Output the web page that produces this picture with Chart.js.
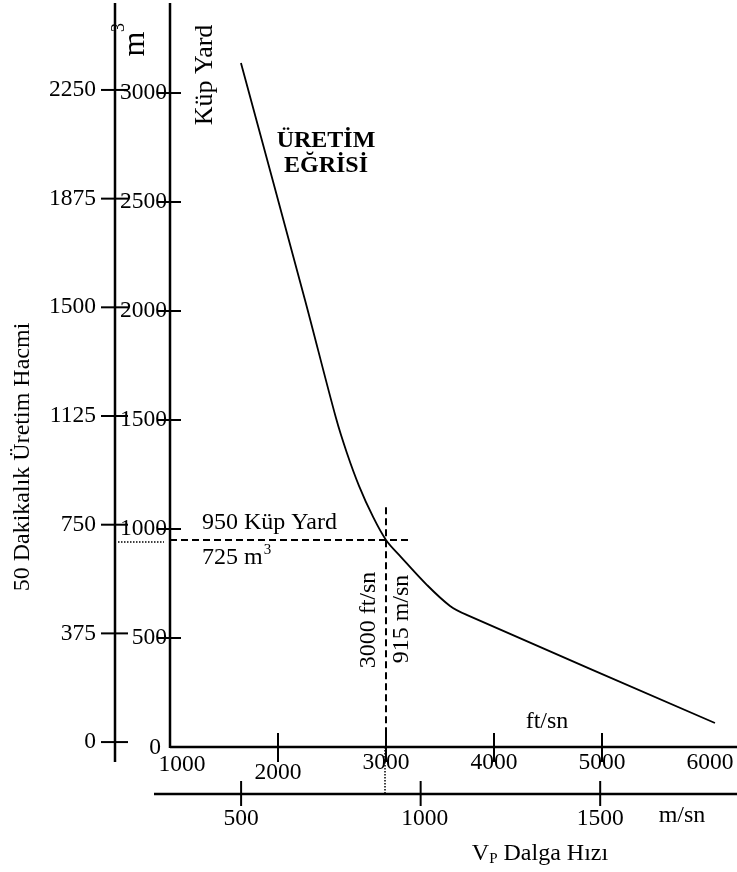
<!DOCTYPE html>
<html>
<script src="https://cdn.jsdelivr.net/npm/chart.js@4"></script>
<body style="margin:0;background:#fff">
<canvas id="myChart" width="737" height="872"></canvas>
</body>

<script>
// production curve
var velFt = [1657, 2250, 2537, 2638, 2751, 2876, 3000, 3131, 3380, 3593, 3747, 6046];
var volYd = [3138, 2051, 1509, 1349, 1197, 1060, 950, 876, 743, 647, 606, 110];

var ydTicks = [500, 1000, 1500, 2000, 2500, 3000];
var m3Ticks = [0, 375, 750, 1125, 1500, 1875, 2250];
var ftTicks = [1000, 2000, 3000, 4000, 5000, 6000];
var ftTickMarks = [2000, 3000, 4000, 5000];
var msTicks = [500, 1000, 1500];

// the marked point 3000 ft/sn -> 950 kup yard
var markFt = 3000, markYd = 950;
var guideFtEnd = 3220, guideYdTop = 1100;

var FONT = '"Liberation Serif", "Times New Roman", serif';
var OUTER_X = 115, MS_Y = 794;

function line(ctx, x1, y1, x2, y2, w, dash) {
  ctx.save();
  ctx.lineWidth = w;
  ctx.setLineDash(dash || []);
  ctx.beginPath();
  ctx.moveTo(x1, y1);
  ctx.lineTo(x2, y2);
  ctx.stroke();
  ctx.restore();
}

function vtext(ctx, str, cx, cy, font) {
  ctx.save();
  ctx.translate(cx, cy);
  ctx.rotate(-Math.PI / 2);
  ctx.font = font;
  ctx.textAlign = 'center';
  ctx.textBaseline = 'middle';
  ctx.fillText(str, 0, 0);
  ctx.restore();
}

var axisPlugin = {
  id: 'axisPlugin',
  afterDraw: function (chart) {
    var ctx = chart.ctx;
    var a = chart.chartArea;
    var sx = chart.scales.x, sy = chart.scales.y;
    var sMs = chart.scales.xMs, sM3 = chart.scales.yM3;
    ctx.save();
    ctx.strokeStyle = '#000';
    ctx.fillStyle = '#000';
    var fNum = '23.5px ' + FONT;
    var fTxt = '24px ' + FONT;

    // axis lines
    line(ctx, OUTER_X, a.top, OUTER_X, 762, 2.5);
    line(ctx, a.left, a.top, a.left, a.bottom + 1, 2.5);
    line(ctx, a.left, a.bottom, a.right, a.bottom, 2.5);
    line(ctx, 154, MS_Y, a.right, MS_Y, 2.5);

    ctx.font = fNum;
    ctx.textBaseline = 'middle';

    // outer m3 axis
    ctx.textAlign = 'right';
    m3Ticks.forEach(function (v) {
      var py = sM3.getPixelForValue(v);
      line(ctx, 101, py, 128, py, 2);
      ctx.fillText(String(v), 96, py);
    });

    // inner kup yard axis
    ydTicks.forEach(function (v) {
      var py = sy.getPixelForValue(v);
      line(ctx, a.left - 13, py, a.left + 11, py, 2);
      ctx.fillText(String(v), a.left - 3, py);
    });
    ctx.textAlign = 'center';
    ctx.fillText('0', a.left - 15, sy.getPixelForValue(0) + 1);

    // ft/sn axis
    ftTickMarks.forEach(function (v) {
      var px = sx.getPixelForValue(v);
      line(ctx, px, a.bottom - 14, px, a.bottom + 15, 2);
    });
    ftTicks.forEach(function (v, i) {
      var px = sx.getPixelForValue(v);
      var dy = 16;
      if (i === 0) { px += 12; dy = 18; }
      if (i === 1) dy = 26;
      ctx.fillText(String(v), px, a.bottom + dy);
    });

    // m/sn axis
    msTicks.forEach(function (v) {
      var px = sMs.getPixelForValue(v);
      line(ctx, px, MS_Y - 13, px, MS_Y + 12, 2);
      ctx.fillText(String(v), px + (v === 1000 ? 4 : 0), MS_Y + 25);
    });
    ctx.font = fTxt;
    ctx.fillText('m/sn', 682, 816);
    ctx.fillText('ft/sn', 547, 722);

    // VP Dalga Hızı
    ctx.textBaseline = 'alphabetic';
    ctx.textAlign = 'left';
    var wV = ctx.measureText('V').width;
    var rest = ' Dalga Hızı';
    var wR = ctx.measureText(rest).width;
    ctx.font = '15px ' + FONT;
    var wP = ctx.measureText('P').width;
    var x0 = 540 - (wV + wP + wR) / 2;
    ctx.font = fTxt;
    ctx.fillText('V', x0, 860);
    ctx.font = '15px ' + FONT;
    ctx.fillText('P', x0 + wV, 863);
    ctx.font = fTxt;
    ctx.fillText(rest, x0 + wV + wP, 860);

    // guides at the marked point
    var hx = sx.getPixelForValue(markFt);
    var hy = sy.getPixelForValue(markYd);
    line(ctx, a.left, hy, sx.getPixelForValue(guideFtEnd), hy, 2, [7, 4]);
    line(ctx, hx, sy.getPixelForValue(guideYdTop), hx, a.bottom, 2, [7, 4]);
    line(ctx, OUTER_X + 3, hy + 2, a.left - 6, hy + 2, 1.5, [1.5, 1.5]);
    line(ctx, hx - 1, a.bottom, hx - 1, MS_Y, 1.5, [1.5, 1.5]);

    // annotations
    ctx.font = fTxt;
    ctx.fillText('950 Küp Yard', 202, 529);
    ctx.fillText('725 m', 202, 564);
    var w725 = ctx.measureText('725 m').width;
    ctx.font = '15px ' + FONT;
    ctx.fillText('3', 202 + w725 + 1, 554);

    ctx.font = 'bold 24px ' + FONT;
    ctx.textAlign = 'center';
    ctx.fillText('ÜRETİM', 326, 147);
    ctx.fillText('EĞRİSİ', 326, 172);

    vtext(ctx, '3000 ft/sn', 369, 620, fTxt);
    vtext(ctx, '915 m/sn', 402, 619, fTxt);
    vtext(ctx, '50 Dakikalık Üretim Hacmi', 23, 457, fTxt);
    vtext(ctx, 'Küp Yard', 205, 75, '26px ' + FONT);

    // m3 label at the top
    ctx.save();
    ctx.translate(136, 44);
    ctx.rotate(-Math.PI / 2);
    ctx.textBaseline = 'middle';
    ctx.textAlign = 'center';
    ctx.font = '32px ' + FONT;
    ctx.fillText('m', 0, 0);
    ctx.textAlign = 'left';
    ctx.font = '18px ' + FONT;
    ctx.fillText('3', 12, -17);
    ctx.restore();

    ctx.restore();
  }
};

var points = velFt.map(function (v, i) { return { x: v, y: volYd[i] }; });

new Chart('myChart', {
  type: 'scatter',
  data: {
    datasets: [{
      data: points,
      showLine: true,
      borderColor: 'black',
      borderWidth: 1.8,
      pointRadius: 0,
      tension: 0.35,
      fill: false
    }]
  },
  options: {
    responsive: false,
    animation: false,
    layout: { padding: { left: 170, top: 3, right: 0, bottom: 125 } },
    plugins: { legend: { display: false }, tooltip: { enabled: false } },
    scales: {
      x: { type: 'linear', min: 1000, max: 6250, display: false },
      y: { type: 'linear', min: 0, max: 3413, display: false },
      xMs: { type: 'linear', axis: 'x', min: 302, max: 1881, display: false },
      yM3: { type: 'linear', axis: 'y', min: -17, max: 2550, display: false }
    }
  },
  plugins: [axisPlugin]
});
</script>
</html>
